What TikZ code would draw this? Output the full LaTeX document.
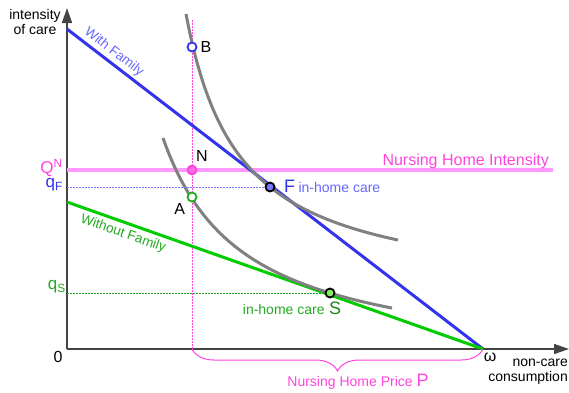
\documentclass[tikz,border=0pt]{standalone}
\usepackage{fontspec}
\setmainfont{Liberation Sans}
\usetikzlibrary{positioning,arrows.meta,decorations.pathreplacing}
\definecolor{cAxis}{HTML}{444444}
\definecolor{cFam}{HTML}{3333EE}
\definecolor{cFamTxt}{HTML}{6666FF}
\definecolor{cFamDot}{HTML}{7777FF}
\definecolor{cNoFam}{HTML}{00CC00}
\definecolor{cNoFamTxt}{HTML}{22AA22}
\definecolor{cNoFamDot}{HTML}{88EE66}
\definecolor{cNurse}{HTML}{FF99FF}
\definecolor{cNurseTxt}{HTML}{FF44DD}
\definecolor{cCurve}{HTML}{808080}

\begin{document}
\begin{tikzpicture}[x=1pt, y=-1pt, font=\fontsize{14}{15}\selectfont,
  axis/.style={draw=cAxis, line width=1.5pt, -{Triangle[length=15pt,width=10pt]}},
  budget/.style={line width=3pt},
  icurve/.style={draw=cCurve, line width=3pt},
  guide/.style={line width=1pt, dash pattern=on 1.5pt off 1.5pt},
  dot/.style={circle, minimum size=9pt, inner sep=0pt, line width=1.8pt},
  lbl/.style={inner sep=0pt, font=\fontsize{16}{18}\selectfont},
  big/.style={inner sep=0pt, font=\fontsize{18}{20}\selectfont},
  slope/.style={inner sep=0pt, font=\fontsize{13.5}{15}\selectfont},
  pricebrace/.style={draw=cNurseTxt, line width=1pt, decorate, decoration={brace, mirror, amplitude=22pt}}]
\useasboundingbox (0,0) rectangle (569,392);
% axes
\coordinate (O) at (67,349);
\coordinate (ytop) at (67,8);
\coordinate (xend) at (569,349);
\coordinate (omega) at (483,349);
\coordinate (yF) at (67,29);
\coordinate (yS) at (67,202);
\draw[axis] (O) -- (ytop);
\draw[axis] (O) -- (xend);
\node[lbl] (zero) at (58,357) {0};
\node[lbl] (om) at (490,357) {ω};
\node[align=center, inner sep=0pt] (ylab) at (35,22) {intensity\\of care};
\node[align=right, inner sep=0pt, anchor=north east] (xlab) at (568,359) {non-care\\consumption};
% guides
\coordinate (Ntop) at (192,20);
\coordinate (Nax) at (192,349);
\coordinate (qFax) at (67,187);
\coordinate (qSax) at (67,293);
\coordinate (QNax) at (67,170);
\coordinate (QNend) at (553,170);
\draw[guide, cNurseTxt] (Ntop) -- (Nax);
\draw[cNurse, line width=3.5pt] (QNax) -- (QNend);
\node[lbl, cNurseTxt, anchor=base east] (nhi) at (549,165) {Nursing Home Intensity};
% budget lines
\draw[budget, cFam] (yF) -- (omega);
\draw[budget, cNoFam] (yS) -- (omega);
\node[slope, cFamTxt, rotate=-37.6] (wf) at (114,52) {With Family};
\node[slope, cNoFamTxt, rotate=-19.5] (wof) at (123,234) {Without Family};
% indifference curves
\draw[icurve] plot[domain=186:398, samples=80] (\x, {349-(52.1+150.91/((\x-132.65)/100))});
\draw[icurve] plot[domain=163:392, samples=80] (\x, {349-(-19+185.83/((\x-82.2)/100))});
% points
\node[dot, draw=black, fill=cFamDot] (F) at (270,187) {};
\node[dot, draw=black, fill=cNoFamDot] (S) at (330,293) {};
\draw[guide, cFamDot] (qFax) -- (F);
\draw[guide, cNoFamTxt] (qSax) -- (S);
\node[dot, draw=cFam, fill=white] (B) at (192,47) {};
\node[dot, draw=cNurseTxt, fill=cNurseTxt!80] (N) at (192,170) {};
\node[dot, draw=cNoFamTxt, fill=white] (A) at (192,197) {};
\node[lbl, right=3pt of B] (Blab) {B};
\node[lbl, above right=4pt and 0pt of N] (Nlab) {N};
\node[lbl, below left=2pt and 3pt of A] (Alab) {A};
\node[big, cFam, anchor=west] (Flab) at (284,186) {F};
\node[cFamTxt, inner sep=0pt, base right=3pt of Flab] (Fcare) {in-home care};
\node[big, cNoFamTxt!80!black, anchor=north] (Slab) at (335,302) {S};
\node[cNoFamTxt, inner sep=0pt, base left=4pt of Slab] (Scare) {in-home care};
% axis values
\node[cNurseTxt, inner sep=0pt, anchor=east, font=\fontsize{17}{19}\selectfont] (QN) at (63,168) {Q\textsuperscript{N}};
\node[cFam, inner sep=0pt, anchor=east, font=\fontsize{17}{19}\selectfont] (qF) at (63,185) {q\textsubscript{F}};
\node[cNoFamTxt, inner sep=0pt, anchor=east, font=\fontsize{17}{19}\selectfont] (qS) at (66,287) {q\textsubscript{S}};
% price
\draw[pricebrace] (Nax) -- (omega);
\node[cNurseTxt, inner sep=0pt, anchor=base] (price) at (358,386) {Nursing Home Price {\fontsize{18}{20}\selectfont P}};
\end{tikzpicture}
\end{document}
